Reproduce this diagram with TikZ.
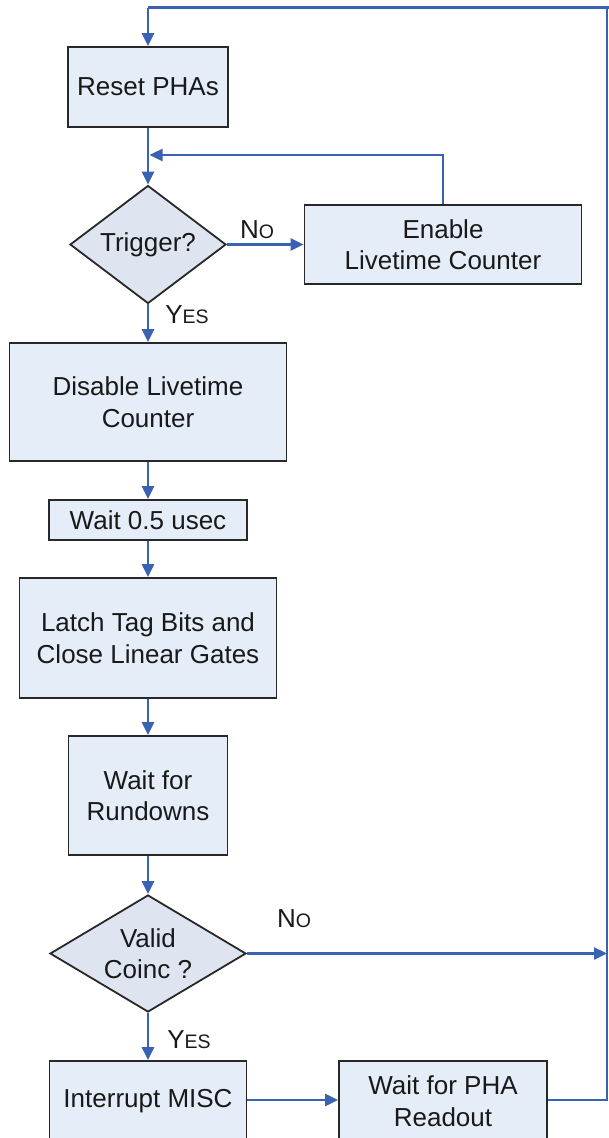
\documentclass[tikz,border=0pt]{standalone}
\usepackage{fontspec}
\setmainfont{Liberation Sans}
\usetikzlibrary{arrows.meta,shapes.geometric}
\definecolor{flow}{RGB}{58,98,178}
\definecolor{boxfill}{RGB}{229,237,248}
\definecolor{decfill}{RGB}{222,229,240}
\definecolor{boxline}{RGB}{40,40,40}
\definecolor{txt}{RGB}{25,25,25}
\newcommand{\scN}[1]{{\fontsize{26}{26}\selectfont #1}}
\newcommand{\scS}[1]{{\fontsize{19.5}{19.5}\selectfont #1}}
\begin{document}
\begin{tikzpicture}[x=1pt,y=-1pt,
  box/.style={draw=boxline,fill=boxfill,line width=1.8pt,inner sep=0pt,align=center,text=txt,font=\fontsize{26}{31.5}\selectfont},
  dec/.style={shape=diamond,draw=boxline,fill=decfill,line width=1.8pt,inner sep=0pt,align=center,text=txt,font=\fontsize{26}{31.5}\selectfont},
  conn/.style={draw=flow,line width=2.4pt,-{Triangle[length=13pt,width=12pt]}},
  plain/.style={draw=flow,line width=2.4pt},
  lbl/.style={text=txt,inner sep=0pt}]
\useasboundingbox[fill=white] (0,0) rectangle (609,1138);
\clip (0,0) rectangle (609,1138);

\node[box,minimum width=160pt,minimum height=80pt] (reset) at (148,87) {Reset PHAs};
\node[dec,minimum width=156pt,minimum height=118pt,aspect=1.32] (trig) at (148,244.5) {Trigger?};
\node[box,minimum width=277pt,minimum height=79pt] (enable) at (443,244.5) {Enable\\Livetime Counter};
\node[box,minimum width=277pt,minimum height=118pt] (disable) at (148,402) {Disable Livetime\\Counter};
\node[box,minimum width=198pt,minimum height=40pt] (wait) at (148,520) {Wait 0.5 usec};
\node[box,minimum width=257pt,minimum height=120pt] (latch) at (148,638) {Latch Tag Bits and\\Close Linear Gates};
\node[box,minimum width=159pt,minimum height=119pt] (rund) at (148,795.5) {Wait for\\Rundowns};
\node[dec,minimum width=196pt,minimum height=117pt,aspect=1.675] (valid) at (148,953.5) {Valid\\Coinc ?};
\node[box,minimum width=197pt,minimum height=80pt] (intr) at (148,1101) {Interrupt MISC};
\node[box,minimum width=208pt,minimum height=80pt] (pha) at (443,1101) {Wait for PHA\\Readout};

\coordinate (tl) at (148,7.5);
\coordinate (tr) at (607,7.5);
\coordinate (tre) at (612,7.5);
\coordinate (rr) at (607,1100);
\coordinate (vr) at (607,953.5);
\coordinate (j) at (149.5,155);
\coordinate (ej) at (443,155);

% main loop back
\draw[plain] (pha.east |- rr) -- (rr) -- (tr);
\draw[plain] (tre) -- (tl);
\draw[conn] (tl) -- (reset.north);

\draw[conn] (reset.south) -- (trig.north);
\draw[conn] (enable.north) -- (ej) -- (j);
\draw[conn] (trig.east) -- (enable.west);
\draw[conn] (trig.south) -- (disable.north);
\draw[conn] (disable.south) -- (wait.north);
\draw[conn] (wait.south) -- (latch.north);
\draw[conn] (latch.south) -- (rund.north);
\draw[conn] (rund.south) -- (valid.north);
\draw[conn] (valid.east) -- (vr);
\draw[conn] (valid.south) -- (intr.north);
\draw[conn] (intr.east |- rr) -- (pha.west |- rr);

\node[lbl] (no1) at (257,230) {\scN{N}\scS{O}};
\node[lbl] (yes1) at (187,315) {\scN{Y}\scS{ES}};
\node[lbl] (no2) at (294,919) {\scN{N}\scS{O}};
\node[lbl] (yes2) at (189,1040) {\scN{Y}\scS{ES}};
\end{tikzpicture}
\end{document}
